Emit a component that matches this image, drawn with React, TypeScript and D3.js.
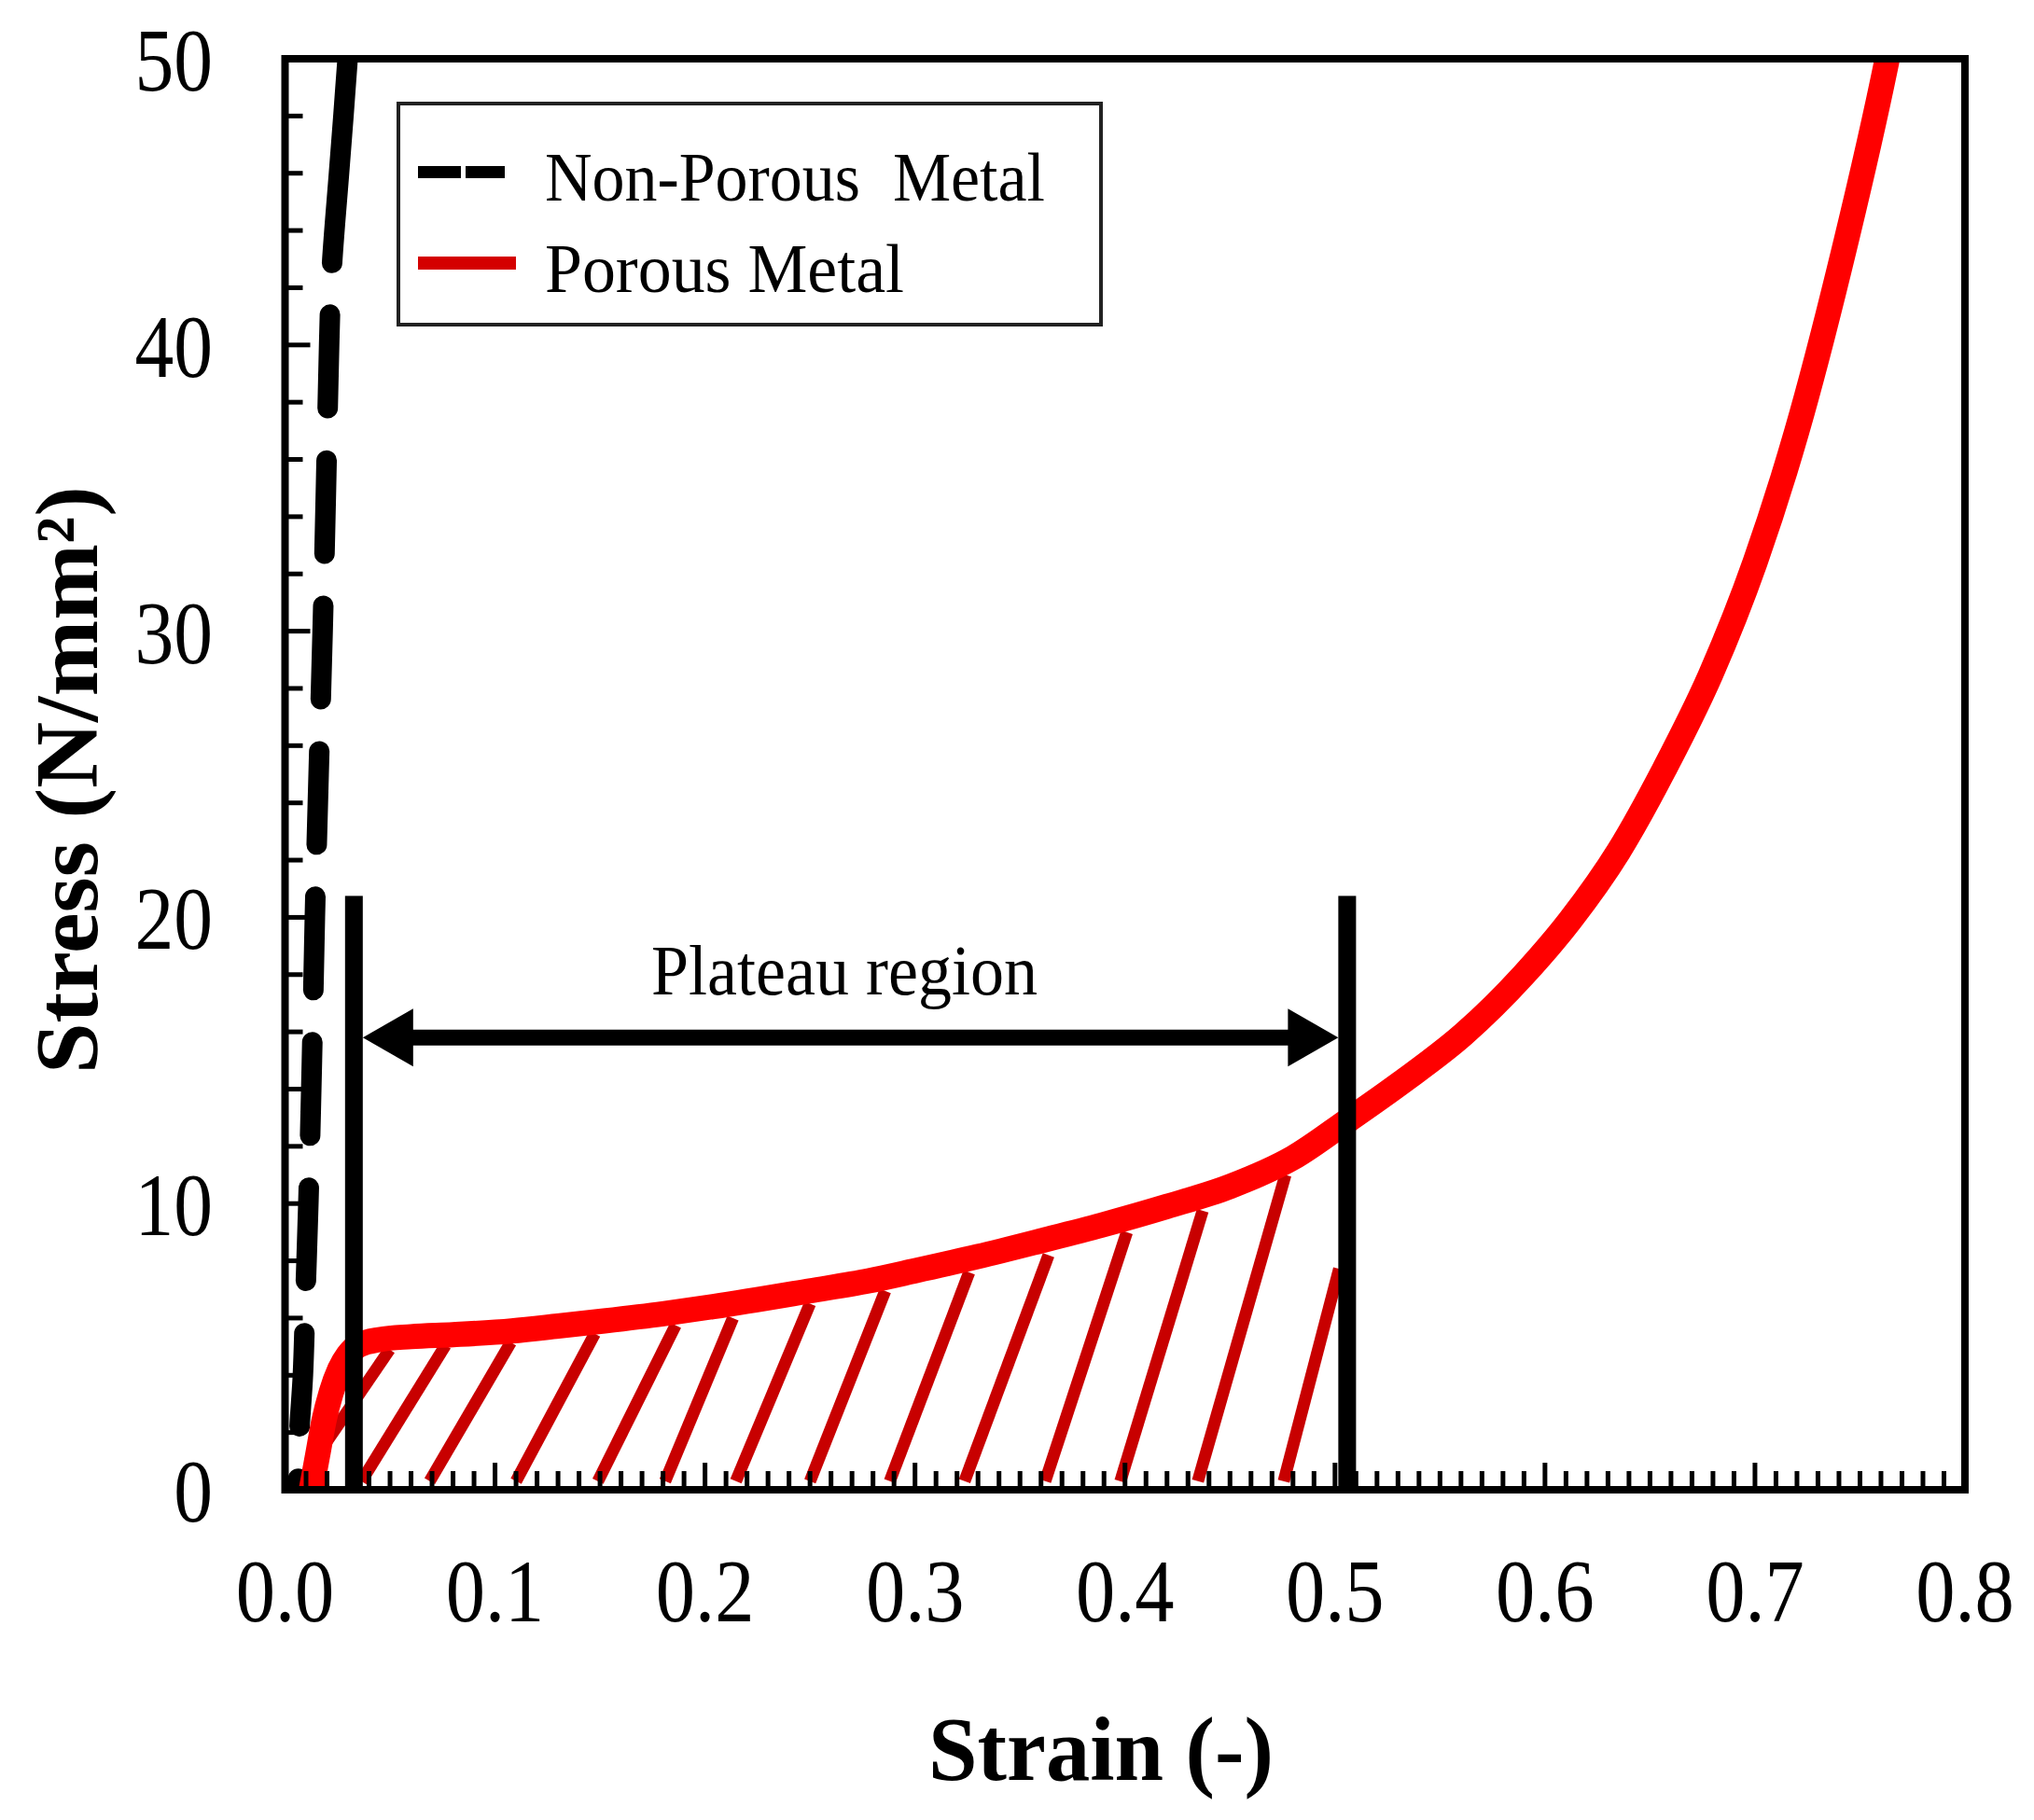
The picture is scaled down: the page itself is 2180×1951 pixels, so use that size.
import { useEffect } from "react"
import * as d3 from "d3"

const W = 2180
const H = 1951
const FONT = '"Liberation Serif", "Times New Roman", serif'

// porous metal (red)
const porousStrain = [0.0125, 0.0155, 0.0185, 0.022, 0.026, 0.03, 0.035, 0.045, 0.06, 0.08, 0.108, 0.13, 0.152, 0.18, 0.204, 0.25, 0.278, 0.3, 0.33, 0.36, 0.389, 0.42, 0.45, 0.48, 0.506, 0.531, 0.561, 0.59, 0.612, 0.635, 0.657, 0.679, 0.7, 0.72, 0.74, 0.763, 0.766]
const porousStress = [0, 1.2, 2.4, 3.4, 4.2, 4.7, 5.05, 5.25, 5.35, 5.42, 5.55, 5.72, 5.9, 6.15, 6.4, 6.95, 7.3, 7.65, 8.15, 8.7, 9.25, 9.9, 10.6, 11.6, 12.9, 14.2, 15.9, 18.0, 19.9, 22.3, 25.2, 28.5, 32.4, 37.0, 42.6, 50, 51.1]

// non-porous metal (black dashed)
const solidStrain = [0.0062, 0.0068, 0.0085, 0.0098, 0.0111, 0.0128, 0.0142, 0.016, 0.0179, 0.0195, 0.021, 0.0222, 0.0257, 0.0278, 0.0298, 0.031]
const solidStress = [0, 2, 4, 7, 10, 15, 20, 25, 30, 35, 40, 42.6, 46, 48, 50, 51]

// hatch lines under the plateau
const hatchFromStrain = [0.02, 0.0364, 0.0689, 0.11, 0.149, 0.181, 0.2147, 0.25, 0.288, 0.3236, 0.362, 0.3978, 0.4347, 0.4756]
const hatchFromStress = [1.7, 0.3, 0.3, 0.3, 0.3, 0.3, 0.3, 0.3, 0.3, 0.3, 0.3, 0.3, 0.3, 0.3]
const hatchToStrain = [0.0498, 0.0764, 0.1075, 0.1475, 0.186, 0.2133, 0.25, 0.2858, 0.3258, 0.3636, 0.4009, 0.437, 0.4764, 0.502]
const hatchToStress = [4.9, 5.05, 5.15, 5.45, 5.75, 6.0, 6.5, 6.95, 7.6, 8.2, 9.0, 9.75, 11.0, 7.72]

const plateauStrain = [0.0328, 0.5058]
const plateauTop = 20.75
const arrowStress = 15.8

const xTicks = [0, 0.1, 0.2, 0.3, 0.4, 0.5, 0.6, 0.7, 0.8]
const xTickLabels = ["0.0", "0.1", "0.2", "0.3", "0.4", "0.5", "0.6", "0.7", "0.8"]
const yTicks = [0, 10, 20, 30, 40, 50]
const yTickLabels = ["0", "10", "20", "30", "40", "50"]

export default function App() {
  useEffect(() => {
    document.body.style.margin = "0"
  }, [])

  const x = d3.scaleLinear().domain([0, 0.8]).range([305.5, 2106])
  const y = d3.scaleLinear().domain([0, 50]).range([1597, 63])
  const [x0, x1] = x.range()
  const [yb, yt] = y.range()

  const porous = d3
    .line<number>()
    .x((_, i) => x(porousStrain[i]))
    .y((d) => y(d))
    .curve(d3.curveMonotoneX)(porousStress)

  const solidPts = d3.zip(solidStrain, solidStress).reverse()
  const solid = d3
    .line<number[]>()
    .x((d) => x(d[0]))
    .y((d) => y(d[1]))
    .curve(d3.curveCatmullRom)(solidPts)

  const dash = [250, 56, ...d3.range(14).flatMap(() => [100, 56])].join(" ")

  const minorX = d3.range(1, 80).map((i) => i / 100)
  const minorY = d3.range(2, 50, 2)

  const barW = 19
  const ay = y(arrowStress)
  const tipL = x(plateauStrain[0]) + barW / 2
  const tipR = x(plateauStrain[1]) - barW / 2
  const headLen = 54
  const headHalf = 31

  return (
    <svg width={W} height={H} viewBox={`0 0 ${W} ${H}`} style={{ display: "block", background: "#fff" }}>
      <defs>
        <clipPath id="plot">
          <rect x={x0} y={yt} width={x1 - x0} height={yb - yt} />
        </clipPath>
      </defs>

      <g clipPath="url(#plot)">
        <path
          d={solid ?? ""}
          fill="none"
          stroke="#000"
          strokeWidth={22}
          strokeLinecap="round"
          strokeDasharray={dash}
        />
        {hatchFromStrain.map((s, i) => (
          <line
            key={i}
            x1={x(s)}
            y1={y(hatchFromStress[i])}
            x2={x(hatchToStrain[i])}
            y2={y(hatchToStress[i])}
            stroke="#c80000"
            strokeWidth={13}
          />
        ))}
        <path d={porous ?? ""} fill="none" stroke="#ff0000" strokeWidth={27} />
      </g>

      {/* plateau markers */}
      {plateauStrain.map((s) => (
        <rect key={s} x={x(s) - barW / 2} y={y(plateauTop)} width={barW} height={y(0) - y(plateauTop)} fill="#000" />
      ))}
      <line x1={tipL + headLen - 2} x2={tipR - headLen + 2} y1={ay} y2={ay} stroke="#000" strokeWidth={17} />
      <polygon points={`${tipL},${ay} ${tipL + headLen},${ay - headHalf} ${tipL + headLen},${ay + headHalf}`} fill="#000" />
      <polygon points={`${tipR},${ay} ${tipR - headLen},${ay - headHalf} ${tipR - headLen},${ay + headHalf}`} fill="#000" />
      <text x={905} y={1066} fontFamily={FONT} fontSize={77} textAnchor="middle" textLength={414} lengthAdjust="spacingAndGlyphs">
        Plateau region
      </text>

      {/* ticks */}
      {minorX.map((t, i) => (
        <line
          key={`xm${i}`}
          x1={x(t)}
          x2={x(t)}
          y1={yb}
          y2={yb - ((i + 1) % 10 === 0 ? 29 : 20)}
          stroke="#000"
          strokeWidth={5}
        />
      ))}
      {minorY.map((t) => (
        <line
          key={`ym${t}`}
          x1={x0}
          x2={x0 + (t % 10 === 0 ? 27 : 19)}
          y1={y(t)}
          y2={y(t)}
          stroke="#000"
          strokeWidth={5}
        />
      ))}
      <rect x={x0} y={yt} width={x1 - x0} height={yb - yt} fill="none" stroke="#000" strokeWidth={8} />

      {xTicks.map((t, i) => (
        <text
          key={`xl${t}`}
          transform={`translate(${x(t)},1738) scale(0.88,1)`}
          fontFamily={FONT}
          fontSize={96}
          textAnchor="middle"
        >
          {xTickLabels[i]}
        </text>
      ))}
      {yTicks.map((t, i) => (
        <text
          key={`yl${t}`}
          transform={`translate(228,${y(t) + 34}) scale(0.87,1)`}
          fontFamily={FONT}
          fontSize={96}
          textAnchor="end"
        >
          {yTickLabels[i]}
        </text>
      ))}

      {/* axis titles */}
      <text x={1180} y={1908} fontFamily={FONT} fontWeight="bold" fontSize={98} textAnchor="middle" textLength={370} lengthAdjust="spacingAndGlyphs">
        Strain (-)
      </text>
      <text
        transform="translate(104,836) rotate(-90)"
        fontFamily={FONT}
        fontWeight="bold"
        fontSize={96}
        textAnchor="middle"
        textLength={630}
        lengthAdjust="spacingAndGlyphs"
      >
        Stress (N/mm²)
      </text>

      {/* legend */}
      <rect x={427} y={111} width={753} height={237} fill="#fff" stroke="#222" strokeWidth={4} />
      <rect x={448} y={178} width={46} height={13} fill="#000" />
      <rect x={499} y={178} width={42} height={13} fill="#000" />
      <line x1={448} x2={553} y1={282} y2={282} stroke="#d40000" strokeWidth={14} />
      <text x={584} y={215} fontFamily={FONT} fontSize={75} textLength={536} lengthAdjust="spacingAndGlyphs" style={{ whiteSpace: "pre" }}>
        {"Non-Porous  Metal"}
      </text>
      <text x={584} y={313} fontFamily={FONT} fontSize={75} textLength={385} lengthAdjust="spacingAndGlyphs">
        Porous Metal
      </text>
    </svg>
  )
}
